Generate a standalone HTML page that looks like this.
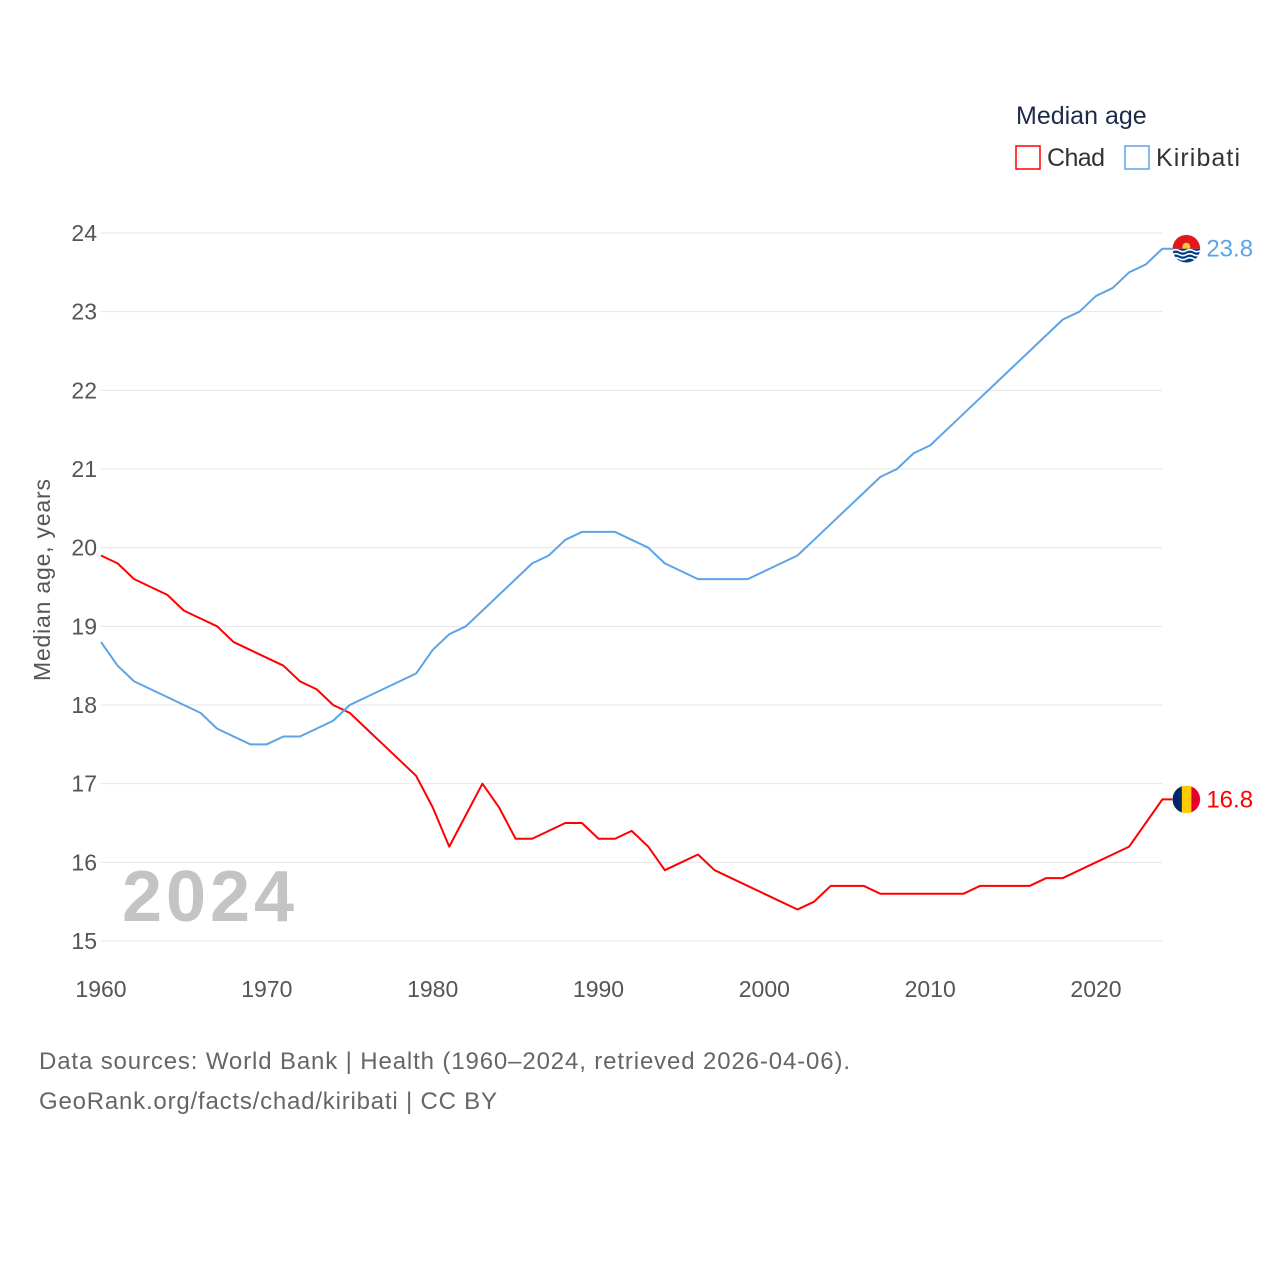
<!DOCTYPE html>
<html><head><meta charset="utf-8"><style>
body{margin:0;background:#fff;font-family:"Liberation Sans",sans-serif}
svg text{font-family:"Liberation Sans",sans-serif}
</style></head><body>
<svg id="chart" width="1280" height="1280" xmlns="http://www.w3.org/2000/svg">
<defs>
<clipPath id="cc"><circle cx="0" cy="0" r="14"/></clipPath>
</defs>
<rect width="1280" height="1280" fill="#fff"/>
<g id="grid"></g><g id="xt"></g><g id="lines"></g>
<text x="1016" y="124" font-size="25" fill="#1d2b4a">Median age</text>
<g><rect x="1016" y="146" width="24" height="23" fill="none" stroke="#f00" stroke-width="1.5"/><text x="1047" y="166" font-size="25" fill="#333" textLength="58">Chad</text></g>
<g><rect x="1125" y="146" width="24" height="23" fill="none" stroke="#5ba4e8" stroke-width="1.5"/><text x="1156" y="166" font-size="25" fill="#333" textLength="84">Kiribati</text></g>
<text transform="translate(50,580) rotate(-90)" text-anchor="middle" font-size="23" fill="#555" textLength="202">Median age, years</text>
<text x="122" y="921" font-size="72" font-weight="bold" fill="#c4c4c4" textLength="172">2024</text>
<text x="39" y="1069" font-size="24" fill="#666" textLength="811">Data sources: World Bank | Health (1960–2024, retrieved 2026-04-06).</text>
<text x="39" y="1109" font-size="24" fill="#666" textLength="458">GeoRank.org/facts/chad/kiribati | CC BY</text>
</svg>
<script>
const years=[];for(let y=1960;y<=2024;y++)years.push(y);
const chad=[19.9,19.8,19.6,19.5,19.4,19.2,19.1,19.0,18.8,18.7,18.6,18.5,18.3,18.2,18.0,17.9,17.7,17.5,17.3,17.1,16.7,16.2,16.6,17.0,16.7,16.3,16.3,16.4,16.5,16.5,16.3,16.3,16.4,16.2,15.9,16.0,16.1,15.9,15.8,15.7,15.6,15.5,15.4,15.5,15.7,15.7,15.7,15.6,15.6,15.6,15.6,15.6,15.6,15.7,15.7,15.7,15.7,15.8,15.8,15.9,16.0,16.1,16.2,16.5,16.8];
const kiribati=[18.8,18.5,18.3,18.2,18.1,18.0,17.9,17.7,17.6,17.5,17.5,17.6,17.6,17.7,17.8,18.0,18.1,18.2,18.3,18.4,18.7,18.9,19.0,19.2,19.4,19.6,19.8,19.9,20.1,20.2,20.2,20.2,20.1,20.0,19.8,19.7,19.6,19.6,19.6,19.6,19.7,19.8,19.9,20.1,20.3,20.5,20.7,20.9,21.0,21.2,21.3,21.5,21.7,21.9,22.1,22.3,22.5,22.7,22.9,23.0,23.2,23.3,23.5,23.6,23.8];
const yTicks=[15,16,17,18,19,20,21,22,23,24];
const xTicks=[1960,1970,1980,1990,2000,2010,2020];
const X=y=>101+(y-1960)*(1096-101)/60;
const Y=v=>941-(v-15)*(941-233)/9;
const NS="http://www.w3.org/2000/svg";
function mk(t,a,p){const e=document.createElementNS(NS,t);for(const k in a)e.setAttribute(k,a[k]);p.appendChild(e);return e;}
const g=document.getElementById('grid');
yTicks.forEach(v=>{
 const l=mk('line',{x1:101,x2:1162,y1:Y(v),y2:Y(v),stroke:'#e6e6e6','stroke-width':1},g);
 
 
 const t=mk('text',{x:97,y:Y(v)+8,'text-anchor':'end','font-size':23,fill:'#555'},g);t.textContent=v;
 
 
});
const xt=document.getElementById('xt');
xTicks.forEach(v=>{
 const t=mk('text',{x:X(v),y:997,'text-anchor':'middle','font-size':23,fill:'#555'},xt);t.textContent=v;
 
 
});
const L=document.getElementById('lines');
function flag(name,cx,cy){
 const fg=mk('g',{transform:'translate('+cx+','+cy+')','clip-path':'url(#cc)'},L);
 
 
 if(name==='chad'){
  mk('rect',{x:-14,y:-14,width:10,height:28,fill:'#002664'},fg);
  mk('rect',{x:-4.5,y:-14,width:9.5,height:28,fill:'#fecb00'},fg);
  mk('rect',{x:5,y:-14,width:10,height:28,fill:'#e4002b'},fg);
 }else{
  mk('rect',{x:-14,y:-14,width:28,height:14,fill:'#e1171d'},fg);
  mk('circle',{cx:0,cy:-2,r:4,fill:'#f8c630'},fg);
  mk('rect',{x:-14,y:0,width:28,height:14,fill:'#003f87'},fg);
  [2,6,10].forEach(w=>mk('path',{d:'M-14 '+w+' q3.5 -2 7 0 t7 0 t7 0 t7 0',fill:'none',stroke:'#fff','stroke-width':1.6},fg));
 }
 mk('circle',{cx:0,cy:0,r:14,fill:'none',stroke:'#fff','stroke-width':0.5},fg);
}
function series(d,c,name){
 const pts=d.map((v,i)=>X(years[i])+','+Y(v));
 const last=d[d.length-1],lx=X(years[years.length-1]),ly=Y(last);
 pts.push((lx+10)+','+ly);
 const p=mk('polyline',{points:pts.join(' '),fill:'none',stroke:c,'stroke-width':2,'stroke-linejoin':'round'},L);
 
 
 flag(name,lx+24,ly);
 const t=mk('text',{x:lx+44,y:ly+8,'font-size':24,fill:c},L);t.textContent=last.toFixed(1);
 
 
}
series(chad,'#f00','chad');
series(kiribati,'#5ba4e8','kiribati');
</script>
</body></html>
